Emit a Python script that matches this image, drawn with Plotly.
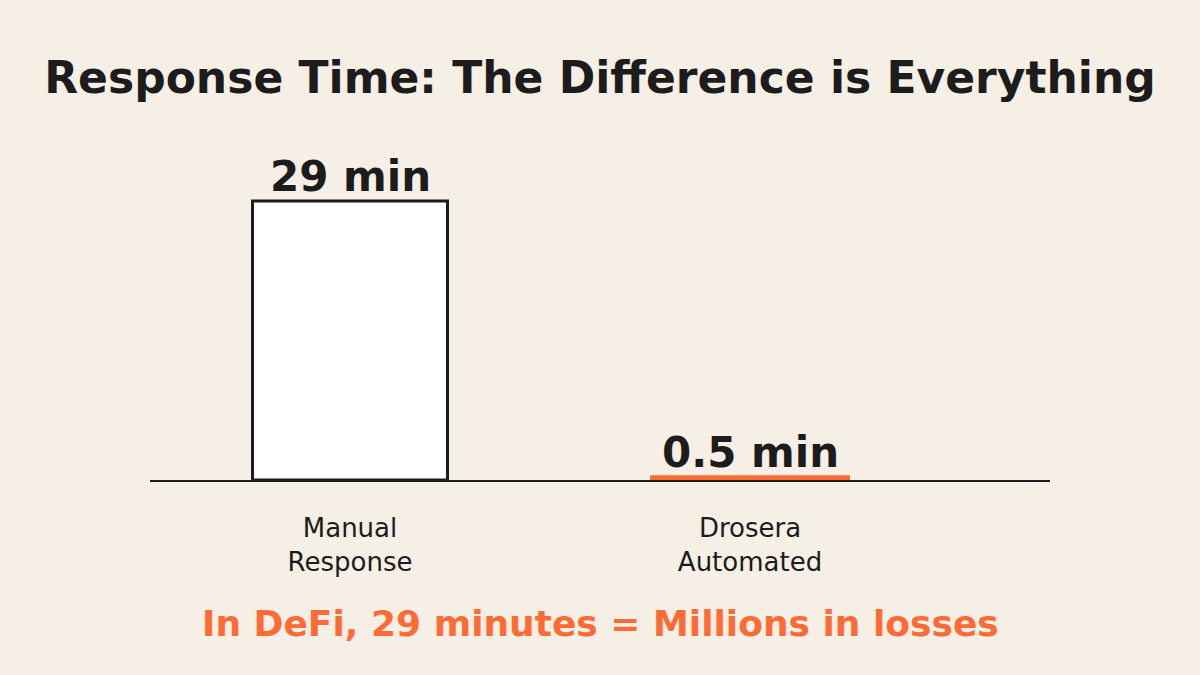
import plotly.graph_objects as go

categories = ["Manual<br>Response", "Drosera<br>Automated"]
values = [29, 0.5]
value_labels = ["29 min", "0.5 min"]
bar_colors = ["#FFFFFF", "#FF6B35"]

INK = "#1C1C1C"
BG = "#F5EFE6"
ORANGE = "#FF6B35"

x_pos = [0, 1]

fig = go.Figure()
fig.add_trace(go.Bar(
    x=x_pos, y=values, width=[0.4875, 0.5],
    marker=dict(color=bar_colors, line=dict(color=[INK, ORANGE], width=[3, 0])),
    hoverinfo="skip",
))

for xp, v, lab, ys in zip(x_pos, values, value_labels, [-2, -4]):
    fig.add_annotation(x=xp, y=v, text=f"<b>{lab}</b>", showarrow=False,
                       yanchor="bottom", yshift=ys,
                       font=dict(family="DejaVu Sans", size=42, color=INK))

fig.update_layout(
    width=1200, height=675,
    paper_bgcolor=BG, plot_bgcolor=BG,
    margin=dict(l=150, r=150, t=172, b=195),
    showlegend=False,
    title=dict(text="<b>Response Time: The Difference is Everything</b>",
               x=0.5, xanchor="center", y=1 - 78 / 675, yanchor="middle",
               font=dict(family="DejaVu Sans", size=44, color=INK)),
    xaxis=dict(range=[-0.5, 1.75], tickvals=x_pos, ticktext=categories,
               showgrid=False, zeroline=False, showline=True, linecolor=INK, linewidth=2,
               ticks="", ticklabelstandoff=24,
               tickfont=dict(family="DejaVu Sans", size=26, color=INK)),
    yaxis=dict(range=[0, 32], visible=False, showgrid=False, zeroline=False),
    font=dict(family="DejaVu Sans"),
)

fig.add_annotation(xref="paper", yref="paper", x=0.5, y=-(623 - 480) / 308,
                   yanchor="middle", showarrow=False,
                   text="<b>In DeFi, 29 minutes = Millions in losses</b>",
                   font=dict(family="DejaVu Sans", size=36, color=ORANGE))

fig.write_html("out.html", config={"displayModeBar": False},
               post_script="document.body.style.margin='0';document.body.style.overflow='hidden';")
